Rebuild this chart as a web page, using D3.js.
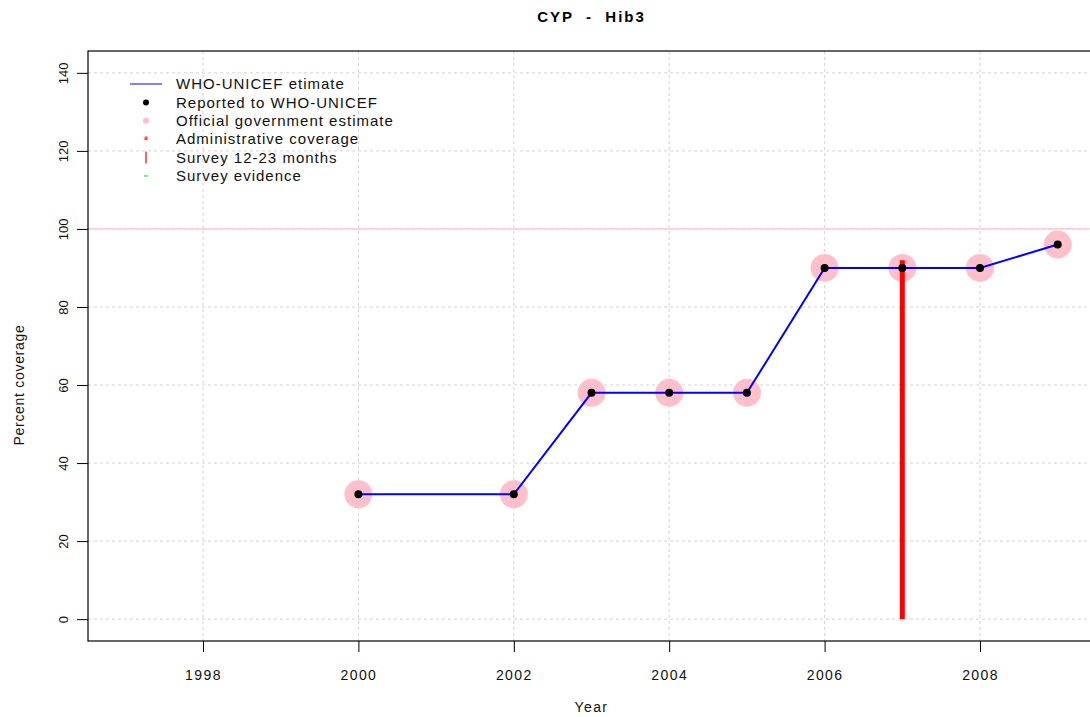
<!DOCTYPE html>
<html>
<head>
<meta charset="utf-8">
<script src="https://cdn.jsdelivr.net/npm/d3@7"></script>
<style>
  body { margin: 0; background: #fff; }
  text { font-family: "Liberation Sans", Arial, sans-serif; }
</style>
</head>
<body>
<script>
// data
years = [2000, 2002, 2003, 2004, 2005, 2006, 2007, 2008, 2009]
wuenic = [32, 32, 58, 58, 58, 90, 90, 90, 96]
reported = [32, 32, 58, 58, 58, 90, 90, 90, 96]
official = [32, 32, 58, 58, 58, 90, 90, 90, 96]
surveyYears = [2007]
surveyValues = [92]
xTicks = [1998, 2000, 2002, 2004, 2006, 2008]
yTicks = [0, 20, 40, 60, 80, 100, 120, 140]
legendLabels = ["WHO-UNICEF etimate", "Reported to WHO-UNICEF", "Official government estimate",
  "Administrative coverage", "Survey 12-23 months", "Survey evidence"]

width = 1090
height = 717
margin = {top: 51, right: -5, bottom: 76, left: 88}

// R style 4% padding on both axes
x = d3.scaleLinear()
  .domain([1996.52, 2009.48])
  .range([margin.left, width - margin.right])
y = d3.scaleLinear()
  .domain([-5.6, 145.6])
  .range([height - margin.bottom, margin.top])

var svg = d3.select("body").append("svg")
  .attr("width", width)
  .attr("height", height)

// grid
svg.append("g")
  .selectAll("line")
  .data(xTicks)
  .join("line")
  .attr("x1", d => x(d)).attr("x2", d => x(d))
  .attr("y1", margin.top).attr("y2", height - margin.bottom)
  .attr("stroke", "#d3d3d3")
  .attr("stroke-dasharray", "3,3")
svg.append("g")
  .selectAll("line")
  .data(yTicks)
  .join("line")
  .attr("x1", margin.left).attr("x2", width - margin.right)
  .attr("y1", d => y(d)).attr("y2", d => y(d))
  .attr("stroke", "#d3d3d3")
  .attr("stroke-dasharray", "3,3")

// 100% reference line
svg.append("line")
  .attr("x1", margin.left).attr("x2", width - margin.right)
  .attr("y1", y(100)).attr("y2", y(100))
  .attr("stroke", "#ffc0cb")
  .attr("stroke-width", 1.2)

// official government estimate
svg.append("g")
  .selectAll("circle")
  .data(years.map((d, i) => [d, official[i]]))
  .join("circle")
  .attr("cx", d => x(d[0]))
  .attr("cy", d => y(d[1]))
  .attr("r", 14)
  .attr("fill", "#ffc0cb")

// survey 12-23 months
svg.append("g")
  .selectAll("line")
  .data(surveyYears.map((d, i) => [d, surveyValues[i]]))
  .join("line")
  .attr("x1", d => x(d[0])).attr("x2", d => x(d[0]))
  .attr("y1", y(0)).attr("y2", d => y(d[1]))
  .attr("stroke", "red")
  .attr("stroke-width", 5)

// WHO-UNICEF estimate
line = d3.line()
  .x((d, i) => x(years[i]))
  .y(d => y(d))
svg.append("path")
  .datum(wuenic)
  .attr("d", line)
  .attr("fill", "none")
  .attr("stroke", "blue")
  .attr("stroke-width", 2)

// reported
svg.append("g")
  .selectAll("circle")
  .data(years.map((d, i) => [d, reported[i]]))
  .join("circle")
  .attr("cx", d => x(d[0]))
  .attr("cy", d => y(d[1]))
  .attr("r", 4)
  .attr("fill", "black")

// box
svg.append("rect")
  .attr("x", margin.left).attr("y", margin.top)
  .attr("width", width - margin.right - margin.left)
  .attr("height", height - margin.bottom - margin.top)
  .attr("fill", "none")
  .attr("stroke", "black")
  .attr("stroke-width", 1.2)

// axes
var gx = svg.append("g")
  .attr("transform", "translate(0," + (height - margin.bottom) + ")")
  .call(d3.axisBottom(x).tickValues(xTicks).tickFormat(d3.format("d")).tickSize(11).tickPadding(18))
gx.select(".domain").remove()
gx.selectAll("text").attr("font-size", 14).attr("letter-spacing", 1.4).attr("fill", "#111")

var gy = svg.append("g")
  .attr("transform", "translate(" + margin.left + ",0)")
  .call(d3.axisLeft(y).tickValues(yTicks).tickSize(11))
gy.select(".domain").remove()
gy.selectAll("text")
  .attr("font-size", 13).attr("fill", "#111")
  .attr("x", 0).attr("dy", 0)
  .attr("text-anchor", "middle")
  .attr("transform", "translate(-20,0) rotate(-90)")

// titles
svg.append("text")
  .attr("x", x(2003)).attr("y", 22)
  .attr("text-anchor", "middle")
  .attr("font-size", 15).attr("font-weight", "bold")
  .attr("letter-spacing", 2)
  .style("white-space", "pre")
  .text("CYP  -  Hib3")
svg.append("text")
  .attr("x", x(2003)).attr("y", 712)
  .attr("text-anchor", "middle")
  .attr("font-size", 14).attr("letter-spacing", 1.4)
  .attr("fill", "#111")
  .text("Year")
svg.append("text")
  .attr("transform", "translate(24," + y(60) + ") rotate(-90)")
  .attr("text-anchor", "middle")
  .attr("font-size", 14).attr("letter-spacing", 0.7)
  .attr("fill", "#111")
  .text("Percent coverage")

// legend
var legend = svg.append("g").attr("transform", "translate(130,84)")
var rows = legend.selectAll("g")
  .data(legendLabels)
  .join("g")
  .attr("transform", (d, i) => "translate(0," + i * 18.4 + ")")
rows.append("text")
  .attr("x", 46).attr("dy", "0.35em")
  .attr("font-size", 15).attr("letter-spacing", 1)
  .attr("fill", "#111")
  .text(d => d)
legend.append("line")
  .attr("x1", 0).attr("x2", 32).attr("y1", 0).attr("y2", 0)
  .attr("stroke", "blue")
legend.append("circle").attr("cx", 16).attr("cy", 18.4).attr("r", 3).attr("fill", "black")
legend.append("circle").attr("cx", 16).attr("cy", 36.8).attr("r", 3).attr("fill", "#ffc0cb")
legend.append("text").attr("x", 16).attr("y", 55.2 + 6).attr("text-anchor", "middle")
  .attr("font-size", 13).attr("fill", "red").text("*")
legend.append("line")
  .attr("x1", 16).attr("x2", 16).attr("y1", 73.6 - 6).attr("y2", 73.6 + 6)
  .attr("stroke", "red").attr("stroke-width", 1.2)
legend.append("line")
  .attr("x1", 14).attr("x2", 18).attr("y1", 92).attr("y2", 92)
  .attr("stroke", "#00dd00").attr("stroke-width", 1)
</script>
</body>
</html>
